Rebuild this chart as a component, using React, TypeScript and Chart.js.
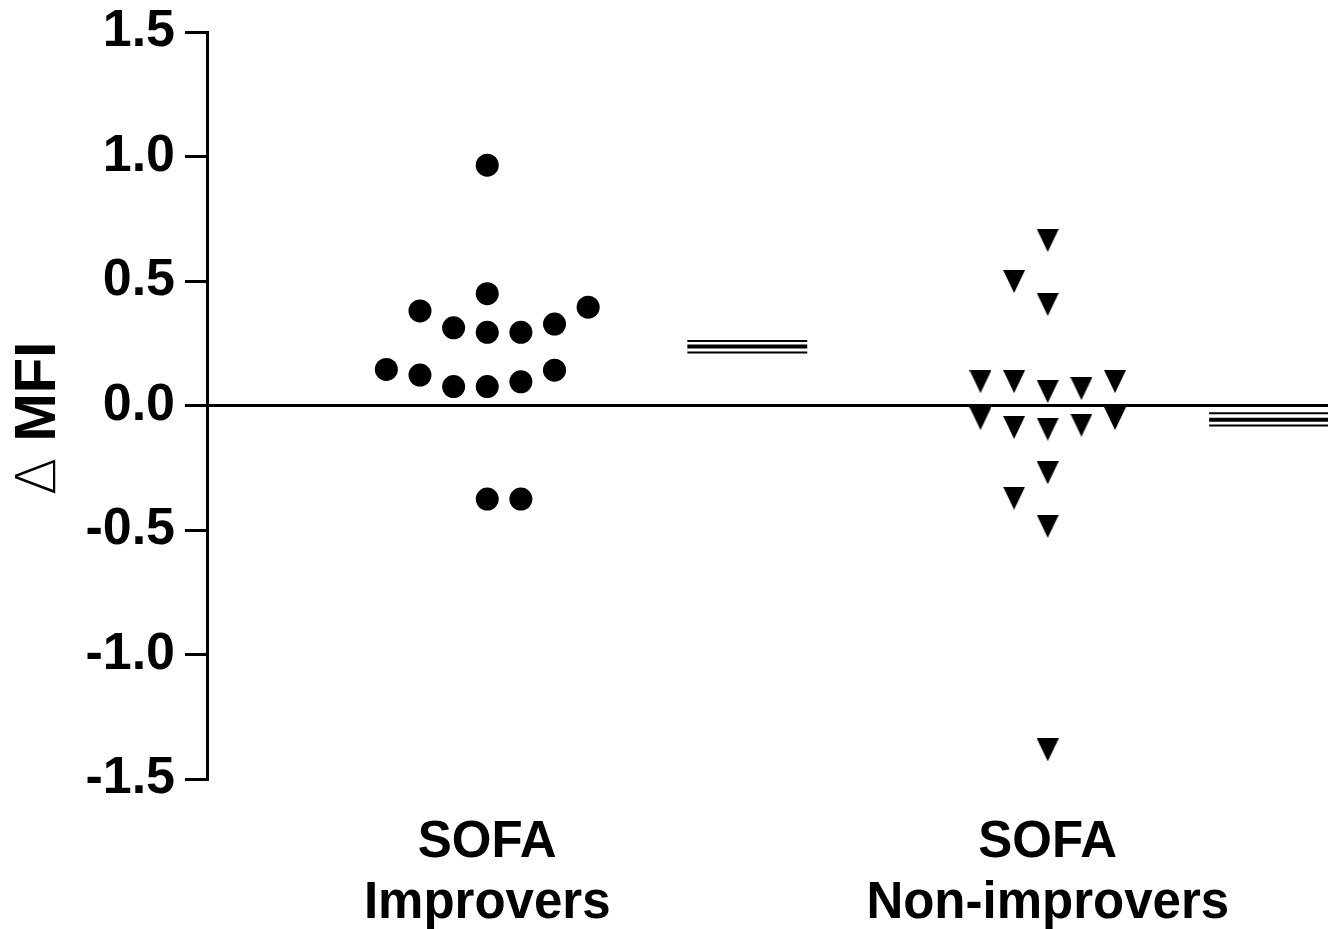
import React, { useEffect, useRef } from "react";
import { Chart, registerables } from "chart.js";

Chart.register(...registerables);

// ---------- DATA ----------
const categories: string[][] = [
  ["SOFA", "Improvers"],
  ["SOFA", "Non-improvers"],
];
const yTickValues = [-1.5, -1.0, -0.5, 0, 0.5, 1.0, 1.5];
const yTitleSymbol = "\u0394";
const yTitleText = " MFI";

// SOFA Improvers (circles): ΔMFI values and column slot in the scatter
const improversValues = [
  0.965, 0.449, 0.38, 0.395, 0.312, 0.294, 0.294, 0.327, 0.145, 0.122, 0.076,
  0.076, 0.095, 0.142, -0.376, -0.376,
];
const improversSlots = [0, 0, -2, 3, -1, 0, 1, 2, -3, -2, -1, 0, 1, 2, 0, 1];

// SOFA Non-improvers (down triangles)
const nonImproversValues = [
  0.663, 0.498, 0.406, 0.096, 0.096, 0.056, 0.068, 0.096, -0.052, -0.088,
  -0.095, -0.079, -0.052, -0.27, -0.372, -0.485, -1.383,
];
const nonImproversSlots = [0, -1, 0, -2, -1, 0, 1, 2, -2, -1, 0, 1, 2, 0, -1, 0, 0];

// mean, upper (mean+SEM), lower (mean-SEM)
const improversMean = [0.237, 0.259, 0.213];
const nonImproversMean = [-0.057, -0.031, -0.08];

// ---------- LAYOUT / STYLE ----------
const SLOT_WIDTH = 0.06;
const MEAN_SPAN_1: [number, number] = [1.357, 1.571];
const MEAN_SPAN_2: [number, number] = [2.288, 2.5];
const FONT = '"Liberation Sans", Arial, Helvetica, sans-serif';

function makeTriangle(): HTMLCanvasElement {
  const c = document.createElement("canvas");
  c.width = 22;
  c.height = 23;
  const g = c.getContext("2d")!;
  g.fillStyle = "#000";
  g.beginPath();
  g.moveTo(0, 0);
  g.lineTo(22, 0);
  g.lineTo(11, 23);
  g.closePath();
  g.fill();
  return c;
}

function meanDatasets(group: number, vals: number[], span: [number, number]) {
  const widths = [4, 2, 2];
  return vals.map((v, i) => ({
    type: "scatter" as const,
    data: [
      { x: span[0], y: v },
      { x: span[1], y: v },
    ],
    showLine: true,
    borderColor: "#000",
    borderWidth: widths[i],
    pointRadius: 0,
    pointHoverRadius: 0,
    label: `mean-${group}-${i}`,
  }));
}

const titlePlugin = {
  id: "yTitleMixed",
  afterDraw(chart: any) {
    const ctx = chart.ctx as CanvasRenderingContext2D;
    ctx.save();
    ctx.translate(55, 418.5);
    ctx.rotate(-Math.PI / 2);
    ctx.fillStyle = "#000";
    ctx.textBaseline = "alphabetic";
    ctx.textAlign = "left";
    const symFont = '200 55px "DejaVu Sans", sans-serif';
    const txtFont = `bold 58px ${FONT}`;
    ctx.font = symFont;
    const w1 = ctx.measureText(yTitleSymbol).width;
    ctx.font = txtFont;
    const w2 = ctx.measureText(yTitleText).width;
    const x0 = -(w1 + w2) / 2;
    ctx.font = symFont;
    ctx.fillText(yTitleSymbol, x0, 0);
    ctx.font = txtFont;
    ctx.fillText(yTitleText, x0 + w1, 0);
    ctx.restore();
  },
};

export default function App() {
  const ref = useRef<HTMLCanvasElement | null>(null);

  useEffect(() => {
    if (!ref.current) return;
    const tri = makeTriangle();

    const chart = new Chart(ref.current, {
      type: "scatter",
      data: {
        datasets: [
          ...meanDatasets(1, improversMean, MEAN_SPAN_1),
          ...meanDatasets(2, nonImproversMean, MEAN_SPAN_2),
          {
            label: "SOFA Improvers",
            data: improversValues.map((v, i) => ({
              x: 1 + improversSlots[i] * SLOT_WIDTH,
              y: v,
            })),
            pointStyle: "circle",
            pointRadius: 11.5,
            pointHoverRadius: 11.5,
            backgroundColor: "#000",
            borderColor: "#000",
            borderWidth: 0,
          },
          {
            label: "SOFA Non-improvers",
            data: nonImproversValues.map((v, i) => ({
              x: 2 + nonImproversSlots[i] * SLOT_WIDTH,
              y: v,
            })),
            pointStyle: tri as any,
            pointRadius: 12,
            pointHoverRadius: 12,
            backgroundColor: "#000",
            borderColor: "#000",
            borderWidth: 0,
          },
        ],
      },
      options: {
        animation: false,
        responsive: false,
        devicePixelRatio: 1,
        layout: { padding: { top: 32, right: 11, left: 0, bottom: 0 } },
        plugins: {
          legend: { display: false },
          tooltip: { enabled: false },
        },
        scales: {
          x: {
            type: "linear",
            min: 0.5,
            max: 2.5,
            grid: { display: false, drawTicks: false },
            border: { display: false },
            afterBuildTicks: (scale: any) => {
              scale.ticks = [{ value: 1 }, { value: 2 }];
            },
            afterFit: (scale: any) => {
              scale.height = 150;
              scale.paddingLeft = 0;
              scale.paddingRight = 0;
            },
            ticks: {
              color: "#000",
              padding: 33,
              maxRotation: 0,
              autoSkip: false,
              font: { family: FONT, size: 51, weight: "bold", lineHeight: 1.2 },
              callback: (value: any) => categories[Math.round(Number(value)) - 1] as any,
            },
          },
          y: {
            type: "linear",
            min: -1.5,
            max: 1.5,
            afterBuildTicks: (scale: any) => {
              scale.ticks = yTickValues.map((v) => ({ value: v }));
            },
            afterFit: (scale: any) => {
              scale.width = 207;
              scale.paddingTop = 0;
              scale.paddingBottom = 0;
            },
            grid: {
              drawOnChartArea: true,
              drawTicks: true,
              tickLength: 22,
              tickWidth: 3,
              tickColor: "#000",
              color: (ctx: any) =>
                ctx.tick && ctx.tick.value === 0 ? "#000" : "rgba(0,0,0,0)",
              lineWidth: 3,
            },
            border: { display: true, color: "#000", width: 3 },
            ticks: {
              color: "#000",
              padding: 10,
              autoSkip: false,
              font: { family: FONT, size: 52, weight: "bold", lineHeight: 1.0 },
              callback: (value: any) => Number(value).toFixed(1),
            },
          },
        },
      },
      plugins: [titlePlugin],
    });

    return () => chart.destroy();
  }, []);

  return (
    <div
      style={{
        position: "absolute",
        left: 0,
        top: 0,
        width: 1340,
        height: 929,
        background: "#fff",
      }}
    >
      <canvas ref={ref} width={1340} height={929} />
    </div>
  );
}
